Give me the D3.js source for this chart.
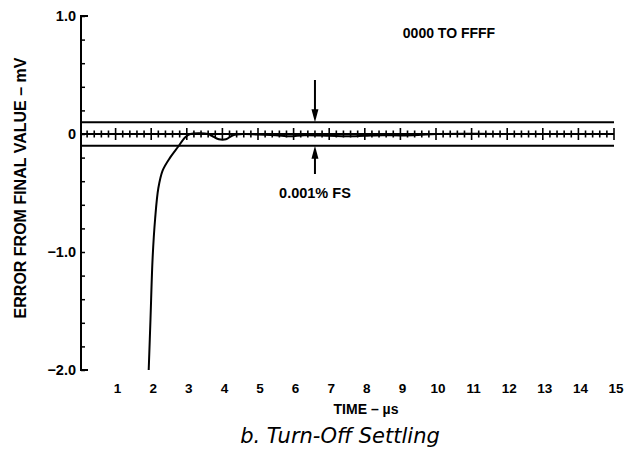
<!DOCTYPE html>
<html>
<head>
<meta charset="utf-8">
<style>
html, body { margin: 0; padding: 0; background: #fff; }
svg { display: block; }
text { font-family: "Liberation Sans", Arial, Helvetica, sans-serif; fill: #000; }
.bold { font-weight: bold; }
.curve { fill: none; stroke: #000; stroke-width: 2; }
.rule { stroke: #000; stroke-width: 2; }
</style>
</head>
<body>
<script src="https://cdn.jsdelivr.net/npm/d3@7"></script>
<script>
var width = 628
var height = 455

// settling curve, time in us, error in mV
var times  = [1.93, 1.98, 2.04, 2.11, 2.2, 2.32, 2.53, 2.75, 2.95, 3.1, 3.6, 3.7, 3.9, 4.1, 4.3, 4.6,
              5.0, 5.5, 5.9, 6.3, 7.0, 7.5, 8.0, 8.5, 9.0, 9.5, 10.0, 11, 12, 13, 14, 15]
var errors = [-2.0, -1.57, -1.05, -0.72, -0.46, -0.31, -0.2, -0.11, -0.03, 0.0, 0.0, -0.015, -0.045, -0.045, -0.01, 0.0,
              -0.005, -0.01, -0.02, -0.01, -0.015, -0.02, -0.015, -0.01, -0.012, -0.008, 0.0, 0.002, 0.0, 0.0, 0.0, 0.0]

var xTicks = [1, 2, 3, 4, 5, 6, 7, 8, 9, 10, 11, 12, 13, 14, 15]
var yTicks = [1.0, 0, -1.0, -2.0]
var yTickLabels = ['1.0', '0', '\u22121.0', '\u22122.0']
var band = [0.1, -0.1]   // 0.001% FS window
var arrowTime = 6.6

var x = d3.scaleLinear().domain([0, 15]).range([80, 614])
var y = d3.scaleLinear().domain([-2, 1]).range([370, 16])

var svg = d3.select('body').append('svg')
    .attr('width', width)
    .attr('height', height)

// y axis: minor ticks pointing in
svg.append('g')
    .attr('transform', 'translate(81,0)')
    .call(d3.axisLeft(y).tickValues(d3.range(-2, 1.01, 0.2)).tickSize(-4).tickFormat(''))
    .call(function (g) {
        g.select('.domain').remove()
        g.selectAll('.tick line').attr('stroke-width', 1.5)
    })

svg.append('line').attr('class', 'rule')
    .attr('x1', 81).attr('x2', 81).attr('y1', y(1)).attr('y2', y(-2))
svg.selectAll('.bracket').data([1, -2]).enter().append('line')
    .attr('class', 'rule bracket')
    .attr('x1', 80).attr('x2', 88)
    .attr('y1', function (d) { return y(d) }).attr('y2', function (d) { return y(d) })

// y tick labels
svg.selectAll('.ylab').data(yTicks).enter().append('text')
    .attr('class', 'ylab bold')
    .attr('x', 76)
    .attr('y', function (d) { return y(d) })
    .attr('dy', '0.36em')
    .attr('text-anchor', 'end')
    .attr('font-size', 14.5)
    .text(function (d, i) { return yTickLabels[i] })

// x tick labels
svg.selectAll('.xlab').data(xTicks).enter().append('text')
    .attr('class', 'xlab bold')
    .attr('x', function (d) { return x(d) + 2 })
    .attr('y', 393)
    .attr('text-anchor', 'middle')
    .attr('font-size', 13.5)
    .text(function (d) { return d })

// band lines
svg.selectAll('.band').data(band).enter().append('line')
    .attr('class', 'rule band')
    .attr('x1', 81).attr('x2', x(15))
    .attr('y1', function (d) { return y(d) }).attr('y2', function (d) { return y(d) })

// zero line with time ticks
svg.append('line').attr('class', 'rule')
    .attr('x1', 81).attr('x2', x(15)).attr('y1', y(0)).attr('y2', y(0))

var timeTicks = d3.range(0.2, 15.01, 0.2)
svg.selectAll('.tt').data(timeTicks).enter().append('line')
    .attr('class', 'tt')
    .attr('stroke', '#000')
    .attr('stroke-width', 1.6)
    .attr('x1', function (d) { return x(d) }).attr('x2', function (d) { return x(d) })
    .attr('y1', function (d) { return y(0) - (Math.abs(d - Math.round(d)) < 1e-6 ? 6 : 3.5) })
    .attr('y2', function (d) { return y(0) + (Math.abs(d - Math.round(d)) < 1e-6 ? 6 : 3.5) })

// curve
var line = d3.line()
    .x(function (d, i) { return x(times[i]) })
    .y(function (d) { return y(d) })
    .curve(d3.curveCatmullRom.alpha(0.5))

svg.append('path')
    .datum(errors)
    .attr('class', 'curve')
    .attr('d', line)

// arrows marking the band
var ax = x(arrowTime)
svg.append('line').attr('stroke', '#000').attr('stroke-width', 2)
    .attr('x1', ax).attr('x2', ax).attr('y1', 80).attr('y2', y(0.1) - 8)
svg.append('path')
    .attr('d', 'M' + (ax - 3.5) + ',' + (y(0.1) - 13) + 'L' + (ax + 3.5) + ',' + (y(0.1) - 13) + 'L' + ax + ',' + y(0.1) + 'Z')
svg.append('line').attr('stroke', '#000').attr('stroke-width', 2)
    .attr('x1', ax).attr('x2', ax).attr('y1', y(-0.1) + 8).attr('y2', 174)
svg.append('path')
    .attr('d', 'M' + (ax - 3.5) + ',' + (y(-0.1) + 13) + 'L' + (ax + 3.5) + ',' + (y(-0.1) + 13) + 'L' + ax + ',' + y(-0.1) + 'Z')

svg.append('text').attr('class', 'bold')
    .attr('x', ax).attr('y', 198)
    .attr('text-anchor', 'middle').attr('font-size', 14.5)
    .text('0.001% FS')

svg.append('text').attr('class', 'bold')
    .attr('x', 449).attr('y', 38)
    .attr('text-anchor', 'middle').attr('font-size', 14)
    .text('0000 TO FFFF')

// axis titles
svg.append('text').attr('class', 'bold')
    .attr('transform', 'translate(26,188) rotate(-90)')
    .attr('text-anchor', 'middle').attr('font-size', 16)
    .text('ERROR FROM FINAL VALUE \u2013 mV')

svg.append('text').attr('class', 'bold')
    .attr('x', 366).attr('y', 414)
    .attr('text-anchor', 'middle').attr('font-size', 14)
    .text('TIME \u2013 \u00b5s')

svg.append('text')
    .attr('x', 340).attr('y', 443)
    .attr('text-anchor', 'middle').attr('font-size', 21)
    .attr('font-style', 'italic')
    .style('font-family', '"DejaVu Sans", sans-serif')
    .text('b. Turn-Off Settling')
</script>
</body>
</html>
